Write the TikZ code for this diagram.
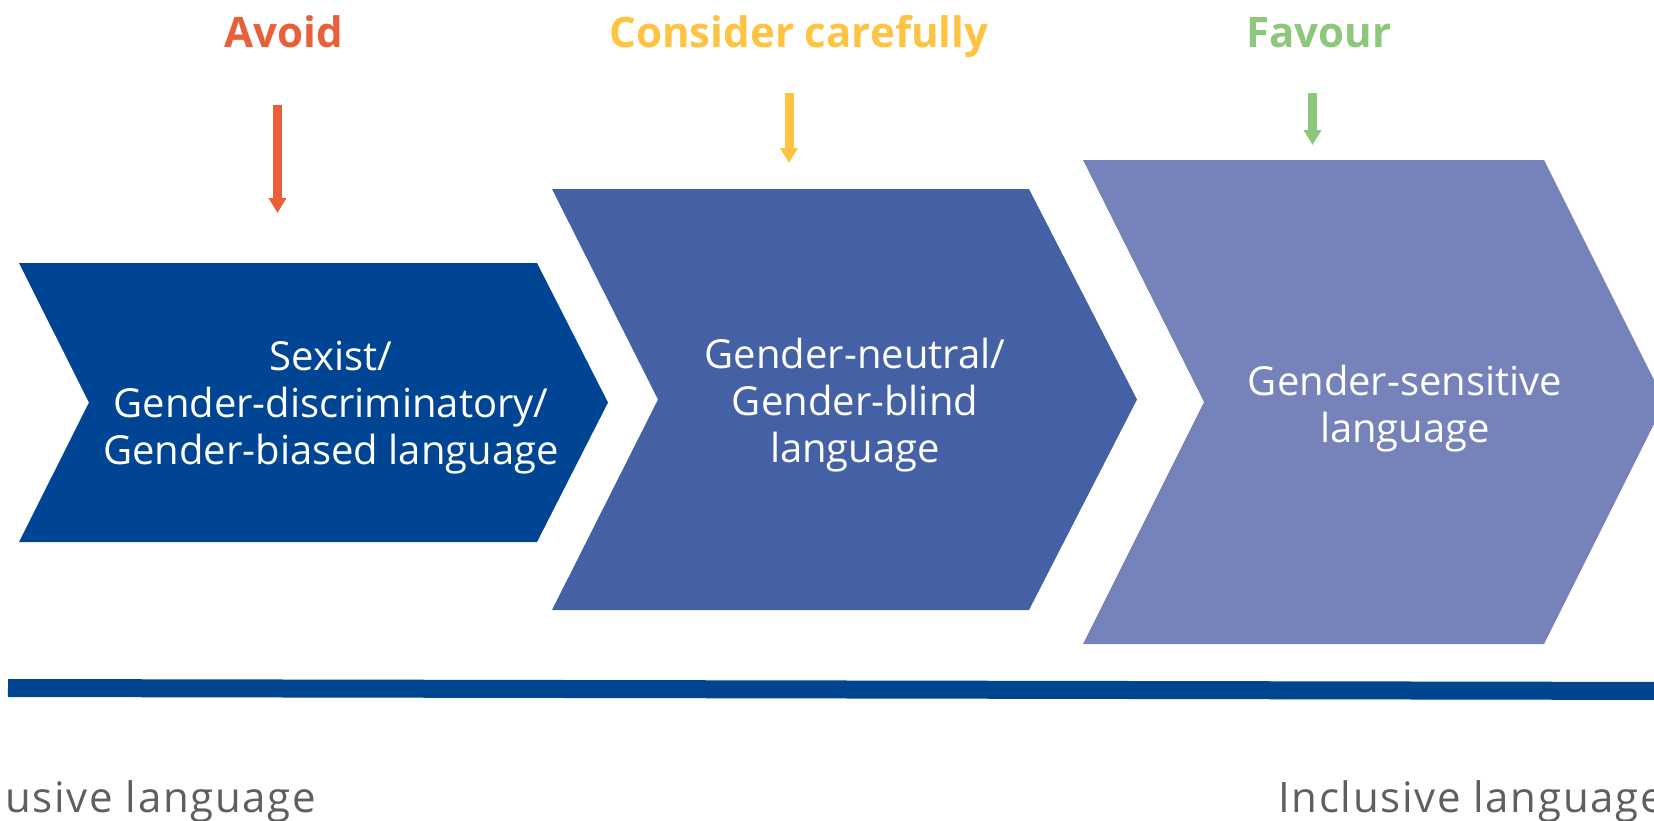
\documentclass[tikz,border=0pt]{standalone}
\usepackage{fontspec}
\setmainfont{Open Sans}
\newfontfamily\spacedfont{Open Sans}[LetterSpace=4]
\usetikzlibrary{arrows.meta}
\definecolor{chevA}{HTML}{004494}
\definecolor{chevB}{HTML}{4561A5}
\definecolor{chevC}{HTML}{7682BA}
\definecolor{avoidc}{HTML}{E85F3A}
\definecolor{considerc}{HTML}{FFC342}
\definecolor{favourc}{HTML}{8DC77B}
\definecolor{grayc}{HTML}{5F5F5F}
\definecolor{axisc}{HTML}{00458F}
\tikzset{
  chevtext/.style={text=white, align=center, anchor=base, inner sep=0pt,
    font=\fontsize{20pt}{23.5pt}\selectfont},
  headtext/.style={anchor=base, inner sep=0pt, font=\bfseries\fontsize{21pt}{25pt}\selectfont},
  downarrow/.style={line width=4.5pt, -{Triangle[width=8.5pt,length=7.5pt]}},
  endtext/.style={text=grayc, anchor=base west, inner sep=0pt,
    font=\spacedfont\fontsize{21pt}{25pt}\selectfont}
}
\begin{document}
\begin{tikzpicture}[x=0.5pt,y=-0.5pt]
\useasboundingbox (0,0) rectangle (1654,820);
\clip (0,0) rectangle (1654,820);
% chevrons
\fill[chevA] (19,263) -- (537,263) -- (608,402.5) -- (537,542) -- (19,542) -- (89,402.5) -- cycle;
\fill[chevB] (552,189) -- (1029,189) -- (1137,399.5) -- (1029,610) -- (552,610) -- (658,399.5) -- cycle;
\fill[chevC] (1083,160) -- (1544,160) -- (1665,402) -- (1544,644) -- (1083,644) -- (1204,402) -- cycle;
% chevron texts (base = baseline of last line)
\node[chevtext] (t1) at (331,464) {Sexist/\\Gender-discriminatory/\\Gender-biased language};
\node[chevtext] (t2) at (855,462) {Gender-neutral/\\Gender-blind\\language};
\node[chevtext] (t3) at (1405,442) {Gender-sensitive\\language};
% headings
\node[headtext, text=avoidc] (h1) at (283.5,47) {Avoid};
\node[headtext, text=considerc] (h2) at (799,47) {Consider carefully};
\node[headtext, text=favourc] (h3) at (1319,47) {Favour};
% arrows
\coordinate (a1s) at (277.5,105);
\coordinate (a1e) at (277.5,213);
\coordinate (a2s) at (789,93);
\coordinate (a2e) at (789,163);
\coordinate (a3s) at (1312.5,93);
\coordinate (a3e) at (1312.5,145);
\draw[downarrow, avoidc] (a1s) -- (a1e);
\draw[downarrow, considerc] (a2s) -- (a2e);
\draw[downarrow, favourc] (a3s) -- (a3e);
% axis
\coordinate (axs) at (8,688);
\coordinate (axe) at (1700,691);
\draw[axisc, line width=9pt] (axs) -- (axe);
% end labels
\node[endtext] (ex) at (5,812) {usive language};
\node[endtext] (in) at (1278,812) {Inclusive language};
\end{tikzpicture}
\end{document}
